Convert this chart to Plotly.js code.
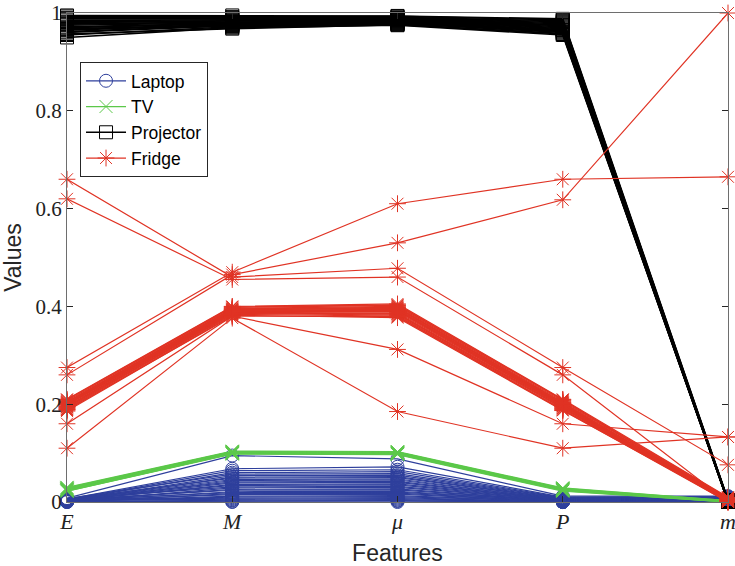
<!DOCTYPE html>
<html>
<head>
<meta charset="utf-8">
<script src="https://cdn.plot.ly/plotly-3.0.1.min.js"></script>
<style>html,body{margin:0;padding:0;background:#fff;}#chart{width:735px;height:566px;}</style>
</head>
<body>
<div id="chart"></div>
<script>
// ---- Data ----
const features = [1, 2, 3, 4, 5];
const featureLabels = ['<i>E</i>', '<i>M</i>', '<i>μ</i>', '<i>P</i>', '<i>m</i>'];
const yTicks = [0, 0.2, 0.4, 0.6, 0.8, 1];
const yTickLabels = ['0', '0.2', '0.4', '0.6', '0.8', '1'];

// Laptop
const laptopE  = [0.008,0.006,0.005,0.004,0.007,0.003,0.002,0.006,0.004,0.001,0.005,0.003,0.002,0.004,0.006,0.001,0.003,0.005,0.002,0.004,0.000,0.003,0.001,0.002,0.006,0.004,0.000,0.002,0.001,0.003];
const laptopM  = [0.095,0.068,0.064,0.060,0.057,0.054,0.051,0.049,0.046,0.044,0.041,0.039,0.036,0.034,0.031,0.029,0.026,0.024,0.021,0.019,0.017,0.015,0.012,0.010,0.008,0.006,0.004,0.003,0.001,0.000];
const laptopMu = [0.088,0.072,0.066,0.062,0.058,0.055,0.052,0.050,0.047,0.045,0.042,0.040,0.037,0.035,0.032,0.030,0.027,0.025,0.022,0.020,0.018,0.016,0.013,0.011,0.009,0.007,0.005,0.003,0.002,0.000];
const laptopP  = [0.012,0.010,0.009,0.008,0.008,0.007,0.006,0.006,0.005,0.005,0.004,0.004,0.004,0.003,0.003,0.003,0.002,0.002,0.002,0.002,0.001,0.001,0.001,0.001,0.000,0.000,0.000,0.000,0.000,0.000];
const laptopm  = [0.012,0.011,0.010,0.010,0.009,0.009,0.008,0.008,0.008,0.007,0.007,0.007,0.006,0.006,0.006,0.006,0.005,0.005,0.005,0.005,0.004,0.004,0.004,0.004,0.003,0.003,0.003,0.003,0.002,0.002];

// TV
const tvE  = [0.030,0.029,0.028,0.027,0.026,0.026,0.025,0.025,0.024,0.023,0.022,0.022];
const tvM  = [0.104,0.103,0.103,0.102,0.102,0.101,0.101,0.100,0.100,0.099,0.099,0.098];
const tvMu = [0.103,0.102,0.102,0.101,0.101,0.100,0.100,0.099,0.099,0.098,0.098,0.097];
const tvP  = [0.029,0.028,0.027,0.027,0.026,0.026,0.025,0.025,0.024,0.024,0.023,0.022];
const tvm  = [0.003,0.003,0.002,0.002,0.002,0.001,0.001,0.001,0.001,0.000,0.000,0.000];

// Projector
const projE  = [0.995,0.990,0.985,0.980,0.975,0.970,0.965,0.960,0.955,0.950,0.988,0.982,0.977,0.972,0.967,0.962,0.957,0.993,0.978,0.968];
const projM  = [0.995,0.990,0.986,0.983,0.980,0.978,0.976,0.974,0.972,0.970,0.988,0.984,0.981,0.979,0.977,0.975,0.968,0.992,0.982,0.973];
const projMu = [0.994,0.991,0.989,0.987,0.985,0.983,0.981,0.979,0.977,0.975,0.990,0.988,0.986,0.984,0.982,0.980,0.976,0.993,0.985,0.978];
const projP  = [0.988,0.984,0.980,0.976,0.972,0.968,0.964,0.960,0.957,0.955,0.982,0.978,0.974,0.970,0.966,0.962,0.958,0.986,0.975,0.965];
const projm  = [0.004,0.004,0.003,0.003,0.003,0.002,0.002,0.002,0.002,0.001,0.001,0.001,0.001,0.001,0.000,0.000,0.000,0.000,0.000,0.000];

// Fridge
const fridgeE  = [0.210,0.207,0.205,0.203,0.201,0.200,0.198,0.196,0.195,0.193,0.191,0.190,0.188,0.186,0.209,0.204,0.199,0.194,0.189,0.202, 0.660,0.620,0.275,0.260,0.160,0.110];
const fridgeM  = [0.400,0.398,0.396,0.395,0.393,0.392,0.391,0.390,0.389,0.388,0.387,0.386,0.384,0.382,0.399,0.394,0.390,0.385,0.380,0.392, 0.460,0.455,0.470,0.465,0.380,0.376];
const fridgeMu = [0.405,0.402,0.400,0.398,0.396,0.394,0.392,0.390,0.388,0.386,0.384,0.382,0.380,0.377,0.403,0.397,0.391,0.385,0.379,0.393, 0.478,0.460,0.610,0.530,0.312,0.185];
const fridgeP  = [0.210,0.208,0.206,0.204,0.202,0.200,0.199,0.198,0.196,0.195,0.193,0.191,0.189,0.187,0.209,0.203,0.197,0.192,0.188,0.201, 0.275,0.260,0.660,0.618,0.160,0.110];
const fridgem  = [0.010,0.009,0.008,0.008,0.007,0.006,0.006,0.005,0.005,0.004,0.004,0.003,0.003,0.002,0.002,0.001,0.001,0.000,0.000,0.000, 0.076,0.000,0.665,1.000,0.133,0.133];

// ---- Build traces ----
const series = [
  {name: 'Laptop', color: '#2e3f9c', symbol: 'circle-open', size: 13, lw: 1.2, cols: [laptopE, laptopM, laptopMu, laptopP, laptopm]},
  {name: 'TV', color: '#5cc84a', symbol: 'x-thin-open', size: 13, lw: 1.2, cols: [tvE, tvM, tvMu, tvP, tvm]},
  {name: 'Projector', color: '#000000', symbol: 'square-open', size: 13, lw: 1.6, cols: [projE, projM, projMu, projP, projm]},
  {name: 'Fridge', color: '#e03324', symbol: 'asterisk-open', size: 14, lw: 1.2, cols: [fridgeE, fridgeM, fridgeMu, fridgeP, fridgem]}
];

const traces = [];
series.forEach(s => {
  const n = s.cols[0].length;
  for (let i = 0; i < n; i++) {
    traces.push({
      type: 'scatter',
      mode: 'lines+markers',
      x: features,
      y: s.cols.map(c => c[i]),
      name: s.name,
      legendgroup: s.name,
      showlegend: i === 0,
      cliponaxis: false,
      line: {color: s.color, width: s.lw},
      marker: {symbol: s.symbol, size: s.size, color: s.color, line: {color: s.color, width: 1}},
      hoverinfo: 'skip'
    });
  }
});

const layout = {
  width: 735,
  height: 566,
  margin: {l: 67, r: 7, t: 13, b: 64},
  paper_bgcolor: '#ffffff',
  plot_bgcolor: '#ffffff',
  showlegend: true,
  legend: {
    x: 0.0197, y: 0.90, xanchor: 'left', yanchor: 'top',
    bgcolor: '#ffffff', bordercolor: '#262626', borderwidth: 1,
    font: {family: 'Liberation Sans, Arial, sans-serif', size: 17.5, color: '#000'},
    itemwidth: 40,
    tracegroupgap: 0
  },
  xaxis: {
    range: [1, 5],
    tickvals: features,
    ticktext: featureLabels,
    ticks: 'inside', ticklen: 6, tickcolor: '#262626',
    ticklabeloverflow: 'allow',
    showline: true, linecolor: '#6e6e6e', linewidth: 1, mirror: 'ticks',
    showgrid: false, zeroline: false,
    tickfont: {family: 'Liberation Serif, serif', size: 22, color: '#222'},
    title: {text: 'Features', font: {family: 'Liberation Sans, Arial, sans-serif', size: 23, color: '#262626'}, standoff: 12}
  },
  yaxis: {
    range: [0, 1],
    tickvals: yTicks,
    ticktext: yTickLabels,
    ticks: 'inside', ticklen: 6, tickcolor: '#262626',
    showline: true, linecolor: '#6e6e6e', linewidth: 1, mirror: 'ticks',
    showgrid: false, zeroline: false,
    tickfont: {family: 'Liberation Serif, serif', size: 21, color: '#222'},
    title: {text: 'Values', font: {family: 'Liberation Sans, Arial, sans-serif', size: 23, color: '#262626'}, standoff: 8}
  }
};

Plotly.newPlot('chart', traces, layout, {displayModeBar: false, staticPlot: true});
</script>
</body>
</html>
